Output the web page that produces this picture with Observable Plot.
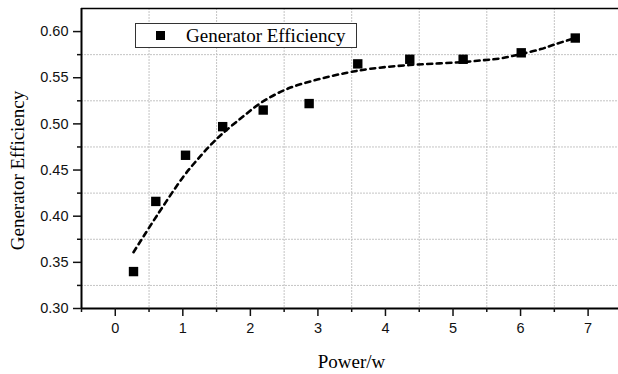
<!DOCTYPE html>
<html>
<head>
<meta charset="utf-8">
<script src="https://cdn.jsdelivr.net/npm/d3@7"></script>
<script src="https://cdn.jsdelivr.net/npm/@observablehq/plot@0.6"></script>
<style>
html, body { margin: 0; padding: 0; background: #fff; }
#wrap { position: relative; width: 618px; height: 374px; overflow: hidden; }
#legend {
  position: absolute; left: 135px; top: 23px; width: 222px; height: 25px;
  box-sizing: border-box; border: 1px solid #333; background: #fff;
  font-family: "Liberation Serif", "Times New Roman", serif; font-size: 19px; color: #000;
}
#legend .sym { position: absolute; left: 20px; top: 7px; width: 9px; height: 9px; background: #000; }
#legend .lab { position: absolute; left: 50px; top: 0px; line-height: 23px; white-space: nowrap; }
</style>
</head>
<body>
<div id="wrap">
  <div id="chart"></div>
  <div id="legend"><div class="sym"></div><div class="lab">Generator Efficiency</div></div>
</div>
<script>
// measured points
const power = [0.27, 0.60, 1.04, 1.59, 2.19, 2.87, 3.59, 4.36, 5.15, 6.01, 6.81];
const efficiency = [0.340, 0.416, 0.466, 0.497, 0.515, 0.522, 0.565, 0.570, 0.570, 0.577, 0.593];
// dashed fit curve
const fitPower = [0.27, 0.62, 1.00, 1.20, 1.41, 1.58, 1.85, 2.17, 2.55, 2.99, 3.43, 3.78, 4.36, 4.80, 5.15, 5.45, 5.71, 6.01, 6.30, 6.50, 6.81];
const fitEfficiency = [0.361, 0.401, 0.442, 0.460, 0.477, 0.489, 0.5055, 0.5235, 0.538, 0.548, 0.5554, 0.5597, 0.5638, 0.5655, 0.567, 0.569, 0.571, 0.5758, 0.581, 0.586, 0.593];
// ticks
const xTicks = [0, 1, 2, 3, 4, 5, 6, 7];
const xMinor = [-0.5, 0.5, 1.5, 2.5, 3.5, 4.5, 5.5, 6.5];
const yTicks = [0.30, 0.35, 0.40, 0.45, 0.50, 0.55, 0.60];
const yMinor = [0.325, 0.375, 0.425, 0.475, 0.525, 0.575];
const xLabel = "Power/w";
const yLabel = "Generator Efficiency";

const points = power.map((p, i) => ({p, e: efficiency[i]}));
const fit = fitPower.map((p, i) => ({p, e: fitEfficiency[i]}));

const serif = "Liberation Serif, Times New Roman, serif";

const chart = Plot.plot({
  width: 618,
  height: 374,
  marginLeft: 81,
  marginRight: 0,
  marginTop: 8,
  marginBottom: 66,
  style: { fontFamily: "Liberation Sans, Arial, sans-serif", fontSize: "14.5px", color: "#111", background: "#fff" },
  x: { domain: [-0.5, 7.45] },
  y: { domain: [0.30, 0.625] },
  marks: [
    Plot.gridX(xMinor.slice(1), { stroke: "#c4c4c4", strokeOpacity: 1, strokeDasharray: "2,1" }),
    Plot.gridY(yMinor, { stroke: "#c4c4c4", strokeOpacity: 1, strokeDasharray: "2,1" }),
    Plot.line(fit, { x: "p", y: "e", stroke: "#000", strokeWidth: 2.6, strokeDasharray: "5,4.5", curve: "catmull-rom" }),
    Plot.dot(points, { x: "p", y: "e", symbol: "square", r: 5.3, fill: "#000", stroke: "none" }),
    Plot.ruleX([-0.5], { stroke: "#000", strokeWidth: 2 }),
    Plot.ruleY([0.30], { stroke: "#000", strokeWidth: 2 }),
    Plot.ruleY([0.625], { stroke: "#000", strokeWidth: 1.5 }),
    Plot.axisX(xTicks, { tickSize: 8, tickPadding: 6, strokeWidth: 1.5, label: null }),
    Plot.axisX(xMinor, { tickSize: 4, strokeWidth: 1.5, tickFormat: () => "", label: null }),
    Plot.axisY(yTicks, { tickSize: 8, tickPadding: 5, strokeWidth: 1.5, tickFormat: d3.format(".2f"), label: null }),
    Plot.axisY(yMinor, { tickSize: 4, strokeWidth: 1.5, tickFormat: () => "", label: null }),
    Plot.text([xLabel], { text: d => d, frameAnchor: "bottom", lineAnchor: "middle", textAnchor: "middle", dy: 53, dx: 1.5, fontFamily: serif, fontSize: 19, fill: "#000" }),
    Plot.text([yLabel], { text: d => d, frameAnchor: "left", rotate: -90, lineAnchor: "middle", textAnchor: "middle", dx: -64, dy: 12, fontFamily: serif, fontSize: 19, fill: "#000" })
  ]
});
document.getElementById("chart").appendChild(chart);
</script>
</body>
</html>
